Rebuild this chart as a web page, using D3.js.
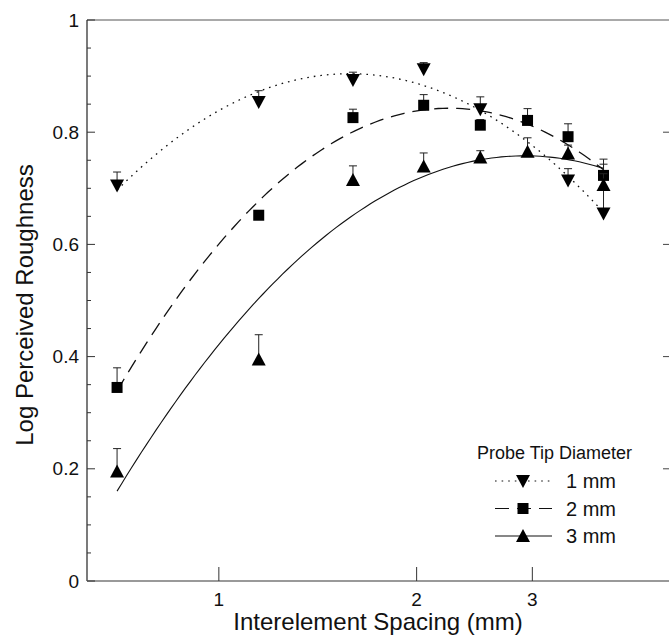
<!DOCTYPE html>
<html>
<head>
<meta charset="utf-8">
<script src="https://cdn.jsdelivr.net/npm/d3@7"></script>
<style>
  body { margin: 0; background: #fff; }
  svg { display: block; font-family: "Liberation Sans", Arial, Helvetica, sans-serif; }
</style>
</head>
<body>
<svg id="chart"></svg>
<script>
// interelement spacing (mm) for each probe tip series
const spacing1 = [0.7, 1.15, 1.6, 2.05, 2.5, 3.4, 3.85];
const spacing23 = [0.7, 1.15, 1.6, 2.05, 2.5, 2.95, 3.4, 3.85];

// log perceived roughness
const rough1mm = [0.705, 0.854, 0.893, 0.912, 0.841, 0.714, 0.655];
const rough2mm = [0.345, 0.652, 0.826, 0.848, 0.8125, 0.821, 0.792, 0.723];
const rough3mm = [0.195, 0.395, 0.715, 0.739, 0.755, 0.765, 0.762, 0.706];

// upper error bar lengths
const err1mm = [0.024, 0.02, 0.014, 0.012, 0.022, 0.021, 0.088];
const err2mm = [0.035, 0.006, 0.015, 0.019, 0.01, 0.021, 0.023, 0.029];
const err3mm = [0.041, 0.044, 0.025, 0.024, 0.012, 0.025, 0.015, 0.02];

const yTicks = [0, 0.2, 0.4, 0.6, 0.8, 1];
const xTicks = [1, 2, 3];
const seriesNames = ['1 mm', '2 mm', '3 mm'];

const width = 669, height = 636;
const svg = d3.select('#chart').attr('width', width).attr('height', height);

const x = d3.scaleLog().domain([0.63, 4.86]).range([87, 670]);
const y = d3.scaleLinear().domain([0, 1]).range([581, 20]);

const series = [
    { name: seriesNames[0], xs: spacing1, ys: rough1mm, err: err1mm, dash: '1.6,5', shape: 'down' },
    { name: seriesNames[1], xs: spacing23, ys: rough2mm, err: err2mm, dash: '14,8', shape: 'square' },
    { name: seriesNames[2], xs: spacing23, ys: rough3mm, err: err3mm, dash: null, shape: 'up' }
];

// least squares quadratic in log10(x), like the fitted curves in the figure
function quadFit(xs, ys) {
    const u = xs.map(v => Math.log10(v));
    const s = [0, 0, 0, 0, 0], t = [0, 0, 0];
    u.forEach((ui, i) => {
        for (let k = 0; k < 5; k++) s[k] += Math.pow(ui, k);
        for (let k = 0; k < 3; k++) t[k] += Math.pow(ui, k) * ys[i];
    });
    const m = [[s[0], s[1], s[2], t[0]], [s[1], s[2], s[3], t[1]], [s[2], s[3], s[4], t[2]]];
    for (let c = 0; c < 3; c++) {
        for (let r = c + 1; r < 3; r++) {
            const f = m[r][c] / m[c][c];
            for (let k = c; k < 4; k++) m[r][k] -= f * m[c][k];
        }
    }
    const b = [0, 0, 0];
    for (let r = 2; r >= 0; r--) {
        let v = m[r][3];
        for (let k = r + 1; k < 3; k++) v -= m[r][k] * b[k];
        b[r] = v / m[r][r];
    }
    return v => { const uu = Math.log10(v); return b[0] + b[1] * uu + b[2] * uu * uu; };
}

function markerPath(shape, cx, cy) {
    if (shape === 'square') return `M${cx - 5.5},${cy - 5.5}h11v11h-11z`;
    if (shape === 'down') return `M${cx - 7},${cy - 6}L${cx + 7},${cy - 6}L${cx},${cy + 7}z`;
    return `M${cx - 7},${cy + 6}L${cx + 7},${cy + 6}L${cx},${cy - 7}z`;
}

// frame
svg.append('line').attr('x1', 87).attr('x2', 670).attr('y1', 20).attr('y2', 20)
    .attr('stroke', '#555').attr('stroke-width', 1);
svg.append('line').attr('x1', 87).attr('x2', 87).attr('y1', 20).attr('y2', 581)
    .attr('stroke', '#222').attr('stroke-width', 1.2);
svg.append('line').attr('x1', 87).attr('x2', 670).attr('y1', 581).attr('y2', 581)
    .attr('stroke', '#777').attr('stroke-width', 1.3);

// left axis ticks (inward), minor every 0.05
const minor = d3.range(0, 1.0001, 0.05);
svg.append('g').selectAll('line').data(minor).join('line')
    .attr('x1', 87).attr('x2', d => Math.abs(d * 5 - Math.round(d * 5)) < 1e-6 ? 95 : 91)
    .attr('y1', d => y(d)).attr('y2', d => y(d))
    .attr('stroke', '#333').attr('stroke-width', 1);
svg.append('g').selectAll('line').data(yTicks.filter(d => d > 0 && d < 1)).join('line')
    .attr('x1', 663).attr('x2', 670)
    .attr('y1', d => y(d)).attr('y2', d => y(d))
    .attr('stroke', '#444').attr('stroke-width', 1);

svg.append('g').selectAll('text').data(yTicks).join('text')
    .attr('x', 79).attr('y', d => y(d)).attr('dy', '0.35em')
    .attr('text-anchor', 'end').attr('font-size', 19).attr('fill', '#111')
    .text(d => d3.format('~g')(d));

// bottom axis ticks (inward)
svg.append('g').selectAll('line').data(xTicks).join('line')
    .attr('x1', d => x(d)).attr('x2', d => x(d)).attr('y1', 581).attr('y2', 567)
    .attr('stroke', '#333').attr('stroke-width', 1);
svg.append('g').selectAll('text').data(xTicks).join('text')
    .attr('x', d => x(d)).attr('y', 606)
    .attr('text-anchor', 'middle').attr('font-size', 19).attr('fill', '#111')
    .text(d => d);

svg.append('text').attr('x', 378).attr('y', 630).attr('text-anchor', 'middle')
    .attr('font-size', 24).attr('fill', '#111').text('Interelement Spacing (mm)');
svg.append('text').attr('transform', 'translate(33,305) rotate(-90)').attr('text-anchor', 'middle')
    .attr('font-size', 24).attr('fill', '#111').text('Log Perceived Roughness');

// fitted curves
series.forEach(s => {
    const f = quadFit(s.xs, s.ys);
    const lo = d3.min(s.xs), hi = d3.max(s.xs);
    const pts = d3.range(0, 101).map(i => lo * Math.pow(hi / lo, i / 100));
    svg.append('path')
        .datum(pts)
        .attr('d', d3.line().x(d => x(d)).y(d => y(f(d))))
        .attr('fill', 'none').attr('stroke', '#111').attr('stroke-width', s.dash ? 1.3 : 1.1)
        .attr('stroke-dasharray', s.dash);
});

// error bars (upper only) and markers
series.forEach(s => {
    const g = svg.append('g');
    const data = s.xs.map((v, i) => ({ x: v, y: s.ys[i], e: s.err[i] }));
    g.selectAll('line.err').data(data).join('line').attr('class', 'err')
        .attr('x1', d => x(d.x)).attr('x2', d => x(d.x))
        .attr('y1', d => y(d.y)).attr('y2', d => y(d.y + d.e))
        .attr('stroke', '#222').attr('stroke-width', 1);
    g.selectAll('line.cap').data(data).join('line').attr('class', 'cap')
        .attr('x1', d => x(d.x) - 4).attr('x2', d => x(d.x) + 4)
        .attr('y1', d => y(d.y + d.e)).attr('y2', d => y(d.y + d.e))
        .attr('stroke', '#222').attr('stroke-width', 1);
    g.selectAll('path').data(data).join('path')
        .attr('d', d => markerPath(s.shape, x(d.x), y(d.y)))
        .attr('fill', '#000');
});

// legend
const legend = svg.append('g');
legend.append('text').attr('x', 477).attr('y', 459).attr('font-size', 18).attr('fill', '#111')
    .text('Probe Tip Diameter');
series.forEach((s, i) => {
    const ly = 481 + i * 27.5;
    legend.append('line').attr('x1', 495).attr('x2', 552).attr('y1', ly).attr('y2', ly)
        .attr('stroke', '#111').attr('stroke-width', 1.1).attr('stroke-dasharray', s.dash);
    legend.append('path').attr('d', markerPath(s.shape, 523, ly)).attr('fill', '#000');
    legend.append('text').attr('x', 566).attr('y', ly).attr('dy', '0.36em')
        .attr('font-size', 20).attr('fill', '#111').text(s.name);
});
</script>
</body>
</html>
